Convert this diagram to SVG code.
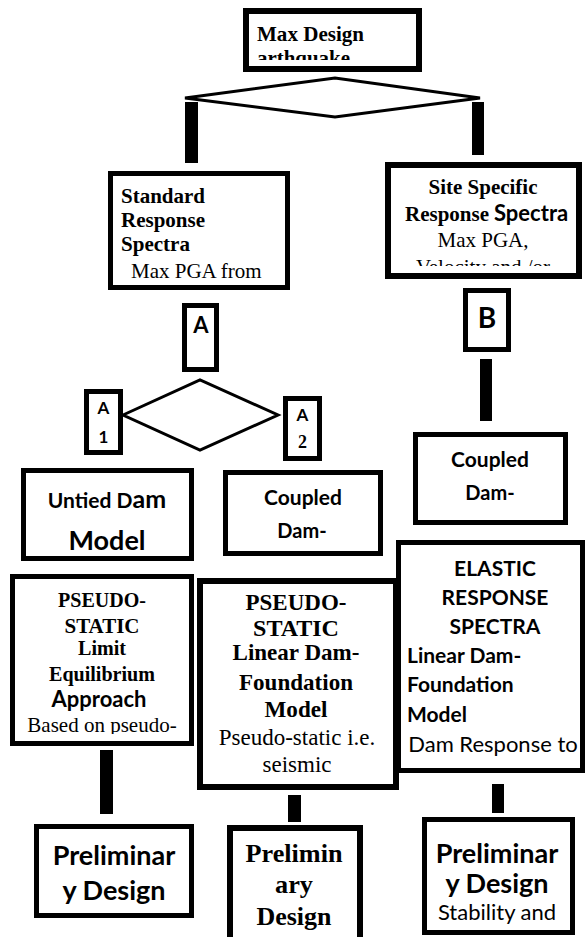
<svg xmlns="http://www.w3.org/2000/svg" width="586" height="937" viewBox="0 0 586 937">
<style>
.box{fill:#fff;stroke:#000}
.dia{fill:#fff;stroke:#000;stroke-width:3}
.bar{fill:#000}
.tb{font-family:"Liberation Serif","Times New Roman",serif;font-weight:bold;fill:#000}
.tr{font-family:"Liberation Serif","Times New Roman",serif;fill:#000}
.sb{font-family:Lato,"Liberation Sans",sans-serif;font-weight:bold;fill:#000}
.sr{font-family:Lato,"Liberation Sans",sans-serif;fill:#000}
.c{text-anchor:middle}
</style>
<defs>
<clipPath id="clipTop"><rect x="246" y="11" width="173" height="49"/></clipPath>
<clipPath id="clipSite"><rect x="388" y="165" width="191" height="101"/></clipPath>
<clipPath id="clipUntied"><rect x="24" y="471" width="167" height="79"/></clipPath>
<clipPath id="clipPL"><rect x="13" y="577" width="178" height="157"/></clipPath>
<clipPath id="clipEl"><rect x="399" y="543" width="183" height="218"/></clipPath>
<clipPath id="clipPR"><rect x="425" y="820" width="147" height="105"/></clipPath>
</defs>

<g id="connectors">
<polygon class="dia" points="185,98 335,78 480,98 335,117"/>
<rect class="bar" x="185" y="102" width="13" height="61"/>
<rect class="bar" x="472" y="102" width="12" height="53"/>
<polygon class="dia" points="123,415 200,380 278,415 200,450"/>
<rect class="bar" x="480" y="359" width="12" height="62"/>
<rect class="bar" x="100" y="750" width="13" height="64"/>
<rect class="bar" x="288" y="795" width="13" height="27"/>
<rect class="bar" x="492" y="784" width="12" height="29"/>
</g>

<g id="n-max">
<rect class="box" x="246" y="11" width="173" height="58" stroke-width="6"/>
<g clip-path="url(#clipTop)">
<text class="tb" x="257" y="41" font-size="21" textLength="107" lengthAdjust="spacingAndGlyphs">Max Design</text>
<text class="tb" x="257" y="65" font-size="21" textLength="93" lengthAdjust="spacingAndGlyphs">arthquake</text>
</g>
</g>

<g id="n-standard">
<rect class="box" x="110.5" y="173.5" width="177" height="114" stroke-width="5"/>
<text class="tb" x="121" y="203" font-size="21" textLength="84" lengthAdjust="spacingAndGlyphs">Standard</text>
<text class="tb" x="121" y="227" font-size="21" textLength="84" lengthAdjust="spacingAndGlyphs">Response</text>
<text class="tb" x="121" y="251" font-size="21" textLength="69" lengthAdjust="spacingAndGlyphs">Spectra</text>
<text class="tr" x="131" y="278" font-size="21">Max PGA from</text>
</g>

<g id="n-site">
<rect class="box" x="388" y="165" width="191" height="111" stroke-width="6"/>
<g clip-path="url(#clipSite)">
<text class="tb c" x="483" y="194" font-size="21" textLength="109" lengthAdjust="spacingAndGlyphs">Site Specific</text>
<text class="tb" x="405" y="221" font-size="21" textLength="84" lengthAdjust="spacingAndGlyphs">Response</text>
<text class="sb" x="494" y="221" font-size="22">Spectra</text>
<text class="tr c" x="483" y="247" font-size="21">Max PGA,</text>
<text class="tr c" x="483" y="274" font-size="21">Velocity and /or</text>
</g>
</g>

<g id="n-A">
<rect class="box" x="184.5" y="305.5" width="32" height="64" stroke-width="5"/>
<text class="sb c" x="201" y="333" font-size="22">A</text>
</g>

<g id="n-B">
<rect class="box" x="465.5" y="290.5" width="43" height="59" stroke-width="5"/>
<text class="sb c" x="487" y="328" font-size="28">B</text>
</g>

<g id="n-A1">
<rect class="box" x="86.5" y="391.5" width="34" height="61" stroke-width="5"/>
<text class="sb c" x="103.5" y="414" font-size="17">A</text>
<text class="sb c" x="103.5" y="443" font-size="17">1</text>
</g>

<g id="n-A2">
<rect class="box" x="285.5" y="398.5" width="34" height="60" stroke-width="5"/>
<text class="sb c" x="302.5" y="421" font-size="17">A</text>
<text class="tb c" x="302.5" y="448" font-size="18">2</text>
</g>

<g id="n-untied">
<rect class="box" x="23.5" y="470.5" width="168" height="88" stroke-width="5"/>
<g clip-path="url(#clipUntied)">
<text class="sb c" x="107" y="508" font-size="21">Untied D<tspan font-size="25">am</tspan></text>
<text class="sb c" x="107" y="550" font-size="27">Model</text>
</g>
</g>

<g id="n-coupled-mid">
<rect class="box" x="225.5" y="472.5" width="155" height="81" stroke-width="5"/>
<text class="sb c" x="303" y="505" font-size="21">Coupled</text>
<text class="sb c" x="302" y="538" font-size="20">Dam-</text>
</g>

<g id="n-coupled-right">
<rect class="box" x="415.5" y="434.5" width="150" height="88" stroke-width="5"/>
<text class="sb c" x="490" y="467" font-size="21">Coupled</text>
<text class="sb c" x="490" y="500" font-size="20">Dam-</text>
</g>

<g id="n-pseudo-left">
<rect class="box" x="12.5" y="576.5" width="179" height="167" stroke-width="5"/>
<g clip-path="url(#clipPL)">
<text class="tb c" x="102" y="607" font-size="20" textLength="88" lengthAdjust="spacingAndGlyphs">PSEUDO-</text>
<text class="tb c" x="102" y="633" font-size="20" textLength="75" lengthAdjust="spacingAndGlyphs">STATIC</text>
<text class="tb c" x="102" y="655" font-size="20" textLength="48" lengthAdjust="spacingAndGlyphs">Limit</text>
<text class="tb c" x="102" y="681" font-size="20" textLength="106" lengthAdjust="spacingAndGlyphs">Equilibrium</text>
<text class="sb c" x="99" y="707" font-size="22">Approach</text>
<text class="tr c" x="102" y="732" font-size="21">Based on pseudo-</text>
</g>
</g>

<g id="n-elastic">
<rect class="box" x="398.5" y="542.5" width="184" height="228" stroke-width="5"/>
<g clip-path="url(#clipEl)">
<text class="sb c" x="495" y="576" font-size="21">ELASTIC</text>
<text class="sb c" x="495" y="605" font-size="21">RESPONSE</text>
<text class="sb c" x="495" y="634" font-size="21">SPECTRA</text>
<text class="sb" x="407" y="663" font-size="21">Linear Dam-</text>
<text class="sb" x="407" y="692" font-size="21">Foundation</text>
<text class="sb" x="407" y="722" font-size="21">Model</text>
<text class="sr c" x="493" y="752" font-size="22">Dam Response to</text>
</g>
</g>

<g id="n-pseudo-mid">
<rect class="box" x="200" y="581" width="196" height="206" stroke-width="6"/>
<text class="tb c" x="296" y="610" font-size="23" textLength="101" lengthAdjust="spacingAndGlyphs">PSEUDO-</text>
<text class="tb c" x="296" y="636" font-size="23" textLength="86" lengthAdjust="spacingAndGlyphs">STATIC</text>
<text class="tb c" x="296" y="660" font-size="23" textLength="127" lengthAdjust="spacingAndGlyphs">Linear Dam-</text>
<text class="tb c" x="296" y="690" font-size="23" textLength="114" lengthAdjust="spacingAndGlyphs">Foundation</text>
<text class="tb c" x="296" y="717" font-size="23" textLength="63" lengthAdjust="spacingAndGlyphs">Model</text>
<text class="tr c" x="297" y="745" font-size="23">Pseudo-static i.e.</text>
<text class="tr c" x="297" y="772" font-size="23">seismic</text>
</g>

<g id="n-prelim-left">
<rect class="box" x="36.5" y="826.5" width="155" height="89" stroke-width="5"/>
<text class="sb c" x="114" y="865" font-size="27">Preliminar</text>
<text class="sb c" x="114" y="900" font-size="27">y Design</text>
</g>

<g id="n-prelim-mid">
<rect class="box" x="230" y="828" width="130" height="120" stroke-width="6"/>
<text class="tb c" x="294" y="862" font-size="26" textLength="97" lengthAdjust="spacingAndGlyphs">Prelimin</text>
<text class="tb c" x="294" y="893" font-size="26" textLength="38" lengthAdjust="spacingAndGlyphs">ary</text>
<text class="tb c" x="294" y="925" font-size="26" textLength="75" lengthAdjust="spacingAndGlyphs">Design</text>
</g>

<g id="n-prelim-right">
<rect class="box" x="424.5" y="819.5" width="148" height="113" stroke-width="5"/>
<g clip-path="url(#clipPR)">
<text class="sb c" x="497" y="863" font-size="27">Preliminar</text>
<text class="sb c" x="497" y="893" font-size="27">y Design</text>
<text class="sr c" x="497" y="920" font-size="22">Stability and</text>
</g>
</g>
</svg>
